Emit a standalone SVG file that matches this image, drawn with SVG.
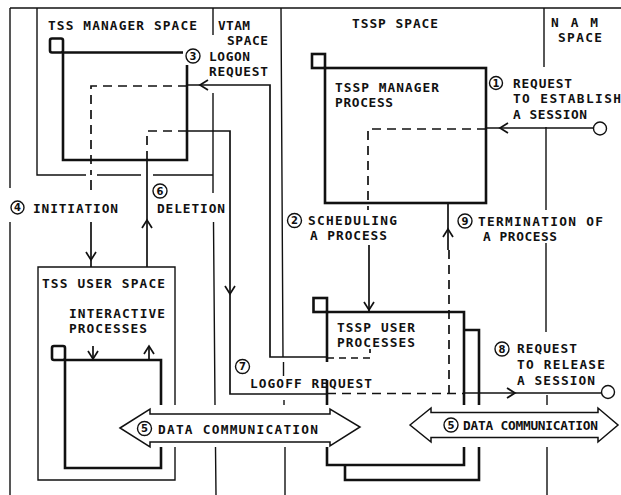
<svg xmlns="http://www.w3.org/2000/svg" xmlns:xlink="http://www.w3.org/1999/xlink" width="621" height="495" viewBox="0 0 621 495">
<style>
.thin{stroke:#111;stroke-width:1.4;fill:none}
.med{stroke:#111;stroke-width:1.7;fill:none}
.thick{stroke:#111;stroke-width:2.6;fill:none}
.dash{stroke:#111;stroke-width:1.7;fill:none;stroke-dasharray:9 6}
.ahd{stroke:#111;stroke-width:1.7;fill:none}
.band{stroke:#111;stroke-width:1.5;fill:#fff}
.t{font-family:"DejaVu Sans Mono",monospace;font-size:12.8px;font-weight:bold;fill:#111}
.nc{stroke:#111;stroke-width:1.4;fill:#fff}
.nd{font-family:"DejaVu Sans",sans-serif;font-size:10px;font-weight:bold;fill:#111;text-anchor:middle}
</style>
<defs>
<path id="ah" d="M-8,-5 L0,0 L-8,5"/>
</defs>
<rect width="621" height="495" fill="#fff"/>

<g id="space-boundaries">
<path class="thin" d="M10,8 H621"/>
<path class="thin" d="M10,8 V188 M10,222 V495"/>
<path class="thin" d="M37,8 V175 H86 M97,175 H141 M153,175 H213"/>
<path class="thin" d="M213,8 V35 M213,93 V193 M213.5,222 L215,405 M215.5,447 L216,495"/>
<path class="thin" d="M281,8 L283,357 M283.5,362 V376 M284,400 V405 M285,447 V495"/>
<path class="thin" d="M544,8 V67 M546,127 V210 M546,243 V332 M547,395 V405 M547,447 V495"/>
</g>

<g id="tss-manager-space">
<text class="t" x="48" y="30" textLength="149" lengthAdjust="spacing">TSS MANAGER SPACE</text>
</g>
<g id="vtam-space">
<text class="t" x="218" y="30" textLength="32" lengthAdjust="spacing">VTAM</text>
<text class="t" x="227" y="45" textLength="41" lengthAdjust="spacing">SPACE</text>
</g>
<g id="tssp-space">
<text class="t" x="352" y="28" textLength="86" lengthAdjust="spacing">TSSP SPACE</text>
</g>
<g id="nam-space">
<text class="t" x="551" y="27" textLength="47" lengthAdjust="spacing">N A M</text>
<text class="t" x="558" y="42" textLength="44" lengthAdjust="spacing">SPACE</text>
</g>

<g id="tss-manager-process">
<rect class="thick" x="50" y="38.5" width="13" height="14" rx="2"/>
<path class="thick" d="M183,52.5 H63 V160 H187 V65"/>
</g>

<g id="tssp-manager-process">
<rect class="thick" x="312" y="54" width="13" height="14"/>
<rect class="thick" x="325" y="68" width="161" height="135"/>
<text class="t" x="335" y="92" textLength="104" lengthAdjust="spacing">TSSP MANAGER</text>
<text class="t" x="335" y="107" textLength="58" lengthAdjust="spacing">PROCESS</text>
</g>

<g id="tss-user-space">
<path class="thin" d="M175,405 V267 H38 V480 H175 V447"/>
<text class="t" x="42" y="288" textLength="123" lengthAdjust="spacing">TSS USER SPACE</text>
</g>

<g id="interactive-processes">
<text class="t" x="69" y="318" textLength="96" lengthAdjust="spacing">INTERACTIVE</text>
<text class="t" x="69" y="333" textLength="78" lengthAdjust="spacing">PROCESSES</text>
<rect class="thick" x="52" y="346" width="13" height="14" rx="2"/>
<path class="thick" d="M161,405 V360 H65 V468 H161 V447"/>
</g>

<g id="tssp-user-processes">
<rect class="thick" x="313.5" y="298" width="13.5" height="14"/>
<path class="thick" d="M327,362 V312 H464 V405 M464,447 V465 H327 V447 M327,380 V405"/>
<path class="thick" d="M464,330 H479 V405 M479,447 V480 H345 V465"/>
<text class="t" x="337" y="332" textLength="78" lengthAdjust="spacing">TSSP USER</text>
<text class="t" x="337" y="347" textLength="78" lengthAdjust="spacing">PROCESSES</text>
</g>

<g id="connectors">
<!-- 3 logon request -->
<path class="med" d="M327,357 H270 V85 H187"/>
<use href="#ah" class="ahd" transform="translate(200,85) rotate(180)"/>
<path class="dash" d="M327,358 H370 V349" style="stroke-dasharray:7 5"/>
<!-- 4 initiation -->
<path class="dash" d="M187,86 H91 V175"/>
<path class="med" d="M91,180 V190 M91,222 V267"/>
<use href="#ah" class="ahd" transform="translate(91,260) rotate(90)"/>
<!-- 6 deletion -->
<path class="med" d="M147,267 V160"/>
<path class="dash" d="M147,160 V131 H187"/>
<use href="#ah" class="ahd" transform="translate(147,220) rotate(-90)"/>
<!-- 7 logoff / 8 release -->
<path class="med" d="M187,131 H230 V394 H327"/>
<use href="#ah" class="ahd" transform="translate(230,294) rotate(90)"/>
<path class="dash" d="M327,393.5 H463"/>
<path class="med" d="M463,393 H602"/>
<use href="#ah" class="ahd" transform="translate(515,393)"/>
<circle class="nc" cx="608" cy="392" r="6.5"/>
<!-- 1 request to establish -->
<path class="med" d="M593,128 H486"/>
<use href="#ah" class="ahd" transform="translate(500,128) rotate(180)"/>
<circle class="nc" cx="600" cy="128.5" r="6.5"/>
<path class="dash" d="M486,129 H368 V210"/>
<!-- 2 scheduling -->
<path class="med" d="M369,245 V312"/>
<use href="#ah" class="ahd" transform="translate(369,310) rotate(90)"/>
<!-- 9 termination -->
<path class="med" d="M448,203 V250"/>
<use href="#ah" class="ahd" transform="translate(448,229) rotate(-90)"/>
<path class="dash" d="M449,250 V393"/>
<!-- interactive arrows -->
<path class="med" d="M93,346 V360 M149,346 V360"/>
<use href="#ah" class="ahd" transform="translate(93,359) rotate(90)"/>
<use href="#ah" class="ahd" transform="translate(149,346) rotate(-90)"/>
</g>

<g id="data-communication-left">
<polygon class="band" points="120,428 150,409 150,414 330,414 330,409 360,427 330,446 330,442 150,442 150,447"/>
<circle class="nc" cx="144.5" cy="428.5" r="7"/><text class="nd" x="144.5" y="432">5</text>
<text class="t" x="158" y="434" textLength="160" lengthAdjust="spacing">DATA COMMUNICATION</text>
</g>
<g id="data-communication-right">
<polygon class="band" points="410,425 431,408 431,412.5 598,412.5 598,408 618,425 598,442 598,437.5 431,437.5 431,442"/>
<circle class="nc" cx="451" cy="425" r="7"/><text class="nd" x="451" y="428.5">5</text>
<text class="t" x="463" y="430" textLength="135" lengthAdjust="spacing">DATA COMMUNICATION</text>
</g>

<g id="labels">
<circle class="nc" cx="193" cy="56" r="7"/><text class="nd" x="193" y="59.5">3</text>
<text class="t" x="209" y="61" textLength="41" lengthAdjust="spacing">LOGON</text>
<text class="t" x="209" y="76" textLength="59" lengthAdjust="spacing">REQUEST</text>

<circle class="nc" cx="496" cy="83" r="6.5"/><text class="nd" x="496" y="86.5">1</text>
<text class="t" x="513" y="88" textLength="59" lengthAdjust="spacing">REQUEST</text>
<text class="t" x="513" y="103" textLength="108" lengthAdjust="spacing">TO ESTABLISH</text>
<text class="t" x="513" y="119" textLength="74" lengthAdjust="spacing">A SESSION</text>

<circle class="nc" cx="17.5" cy="207.5" r="6.5"/><text class="nd" x="17.5" y="211">4</text>
<text class="t" x="33" y="213" textLength="85" lengthAdjust="spacing">INITIATION</text>

<circle class="nc" cx="160" cy="191" r="7"/><text class="nd" x="160" y="194.5">6</text>
<text class="t" x="157" y="213" textLength="68" lengthAdjust="spacing">DELETION</text>

<circle class="nc" cx="294.5" cy="220.5" r="7"/><text class="nd" x="294.5" y="224">2</text>
<text class="t" x="308" y="225" textLength="89" lengthAdjust="spacing">SCHEDULING</text>
<text class="t" x="310" y="240" textLength="77" lengthAdjust="spacing">A PROCESS</text>

<circle class="nc" cx="465" cy="221" r="7"/><text class="nd" x="465" y="224.5">9</text>
<text class="t" x="478" y="226" textLength="125" lengthAdjust="spacing">TERMINATION OF</text>
<text class="t" x="483" y="241" textLength="74" lengthAdjust="spacing">A PROCESS</text>

<circle class="nc" cx="242.5" cy="366.5" r="7"/><text class="nd" x="242.5" y="370">7</text>
<text class="t" x="250" y="388" textLength="122" lengthAdjust="spacing">LOGOFF REQUEST</text>

<circle class="nc" cx="502" cy="349" r="7"/><text class="nd" x="502" y="352.5">8</text>
<text class="t" x="517" y="353" textLength="60" lengthAdjust="spacing">REQUEST</text>
<text class="t" x="517" y="369" textLength="88" lengthAdjust="spacing">TO RELEASE</text>
<text class="t" x="517" y="385" textLength="78" lengthAdjust="spacing">A SESSION</text>
</g>
</svg>
